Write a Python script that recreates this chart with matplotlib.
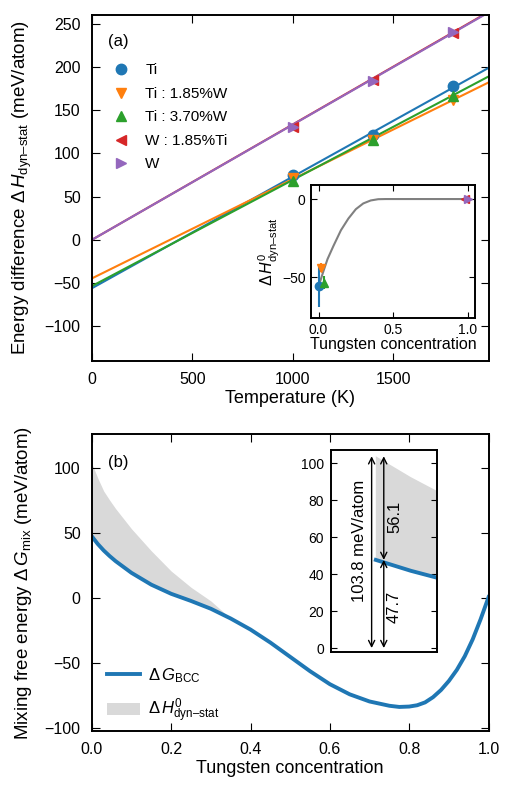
import matplotlib
matplotlib.use("Agg")
import matplotlib.pyplot as plt
import numpy as np

plt.rcParams['font.family'] = ['Liberation Sans', 'DejaVu Sans']
plt.rcParams['mathtext.fontset'] = 'custom'
plt.rcParams['mathtext.rm'] = 'Liberation Sans'
plt.rcParams['mathtext.it'] = 'Liberation Sans:italic'
plt.rcParams['mathtext.bf'] = 'Liberation Sans:bold'
plt.rcParams['mathtext.sf'] = 'Liberation Sans'
plt.rcParams['xtick.direction'] = 'in'
plt.rcParams['ytick.direction'] = 'in'
plt.rcParams['xtick.top'] = True
plt.rcParams['ytick.right'] = True
plt.rcParams['xtick.major.size'] = 5.5
plt.rcParams['ytick.major.size'] = 5.5
plt.rcParams['axes.linewidth'] = 1.4

#### data, panel (a) ####
temps = [1000, 1400, 1800]
names = ['Ti', 'Ti : 1.85%W', 'Ti : 3.70%W', 'W : 1.85%Ti', 'W']
markers = ['o', 'v', '^', '<', '>']
colors = ['C0', 'C1', 'C2', 'C3', 'C4']
dH_ti = [75, 121, 177.5]
dH_ti185w = [72, 116, 162]
dH_ti370w = [68, 115.5, 167]
dH_w185ti = [131, 185, 239.5]
dH_w = [130, 184, 240]
# linear fits: intercept (= dH0) and slope (meV/atom/K)
intercepts = [-56, -44.6, -53.5, 0, 0]
slopes = [0.1291, 0.1148, 0.1228, 0.1335, 0.1332]

# inset (a)
w_conc = [0.0, 0.0185, 0.037, 0.9815, 1.0]
dH0 = [-56, -44, -53.5, 0, 0]
dH0_err = [13, 3, 4, 0.5, 0.5]
model_x = [0, 0.03, 0.06, 0.1, 0.15, 0.2, 0.25, 0.3, 0.35, 0.4, 0.45, 1.0]
model_y = [-56, -47, -38.5, -30, -20, -12.5, -6.5, -2.8, -0.9, -0.1, 0, 0]

#### data, panel (b) ####
x_w = [0, 0.015, 0.03, 0.045, 0.06, 0.1, 0.15, 0.2, 0.25, 0.3, 0.35, 0.4, 0.45,
       0.5, 0.55, 0.6, 0.65, 0.7, 0.75, 0.775, 0.8, 0.82, 0.84, 0.86, 0.88,
       0.9, 0.92, 0.94, 0.96, 0.98, 1.0]
dG_bcc = [47.7, 41.8, 36.8, 32.5, 28.6, 19.6, 10.5, 3.5, -2, -8, -15.5, -24,
          -34, -45, -56, -66, -73.8, -79.3, -82.6, -83.5, -83.2, -82.2, -80,
          -76, -70.5, -63.5, -55, -44.5, -31.5, -16, 1]
dG_upper = [103.8, 92.5, 82.5, 75.5, 69, 53.5, 36.5, 21, 8.5, -2, -15.5]
dG0 = 47.7
dH0_ti = 56.1

fig = plt.figure(figsize=(5.1, 7.95), dpi=100)

#%% panel (a)
ax1 = fig.add_axes([0.180, 0.546, 0.778, 0.435])
xlim_a = (0, 1975)
t_line = np.array(xlim_a)
for b, m, c in zip(intercepts, slopes, colors):
    ax1.plot(t_line, b + m * t_line, color=c, lw=1.5)
for vals, mk, c, nm in zip([dH_ti, dH_ti185w, dH_ti370w, dH_w185ti, dH_w],
                           markers, colors, names):
    ax1.plot(temps, vals, mk, color=c, ms=7.5, ls='none', label=nm)
ax1.set_xlim(*xlim_a)
ax1.set_ylim(-140, 260)
ax1.set_xticks([0, 500, 1000, 1500])
ax1.set_yticks(np.arange(-100, 251, 50))
ax1.tick_params(labelsize=11.5, pad=8)
ax1.set_xlabel('Temperature (K)', fontsize=13, labelpad=2)
ax1.set_ylabel(r'Energy difference $\Delta\,H_{\mathrm{dyn–stat}}$ (meV/atom)',
               fontsize=13.5, labelpad=8)
ax1.text(0.04, 0.923, '(a)', transform=ax1.transAxes, fontsize=12, va='center')
ax1.legend(loc='upper left', bbox_to_anchor=(0.0, 0.90), frameon=False,
           fontsize=11, handletextpad=0.6, labelspacing=0.62, numpoints=1)

# inset (a)
ins1 = fig.add_axes([0.610, 0.6004, 0.3216, 0.1669])
ins1.plot(model_x, model_y, color='gray', lw=1.5)
for x, y, e, mk, c in zip(w_conc, dH0, dH0_err, markers, colors):
    ins1.errorbar(x, y, yerr=e, fmt=mk, color=c, ms=6, elinewidth=1.5, capsize=0)
ins1.set_xlim(-0.05, 1.05)
ins1.set_ylim(-76, 9)
ins1.set_xticks([0, 0.5, 1.0])
ins1.set_xticklabels(['0.0', '0.5', '1.0'])
ins1.set_yticks([0, -50])
ins1.tick_params(labelsize=10, length=4, pad=4)
ins1.set_xlabel('Tungsten concentration', fontsize=11.5, labelpad=0)
ins1.set_ylabel(r'$\Delta\,H^0_{\mathrm{dyn–stat}}$', fontsize=11.5, labelpad=0)

#%% panel (b)
ax2 = fig.add_axes([0.180, 0.0805, 0.778, 0.373])
n_up = len(dG_upper)
ax2.fill_between(x_w[:n_up], dG_bcc[:n_up], dG_upper, color='#d9d9d9', lw=0,
                 label=r'$\Delta\,H^0_{\mathrm{dyn–stat}}$')
ax2.plot(x_w, dG_bcc, color='#1f77b4', lw=2.8, label=r'$\Delta\,G_{\mathrm{BCC}}$')
ax2.set_xlim(0, 1)
ax2.set_ylim(-102, 126)
ax2.set_xticks(np.arange(0, 1.01, 0.2))
ax2.set_xticklabels(['0.0', '0.2', '0.4', '0.6', '0.8', '1.0'])
ax2.set_yticks(np.arange(-100, 101, 50))
ax2.tick_params(labelsize=11.5, pad=8)
ax2.set_xlabel('Tungsten concentration', fontsize=13, labelpad=2)
ax2.set_ylabel(r'Mixing free energy $\Delta\,G_{\mathrm{mix}}$ (meV/atom)',
               fontsize=13.5, labelpad=8)
ax2.text(0.04, 0.905, '(b)', transform=ax2.transAxes, fontsize=12, va='center')
h, l = ax2.get_legend_handles_labels()
ax2.legend(h[::-1], l[::-1], loc='lower left', bbox_to_anchor=(0.0, -0.03),
           frameon=False, fontsize=12, handlelength=2.0, handletextpad=0.5,
           labelspacing=0.7)

# inset (b)
ins2 = fig.add_axes([0.649, 0.1795, 0.207, 0.2545])
ins2.fill_between(x_w[:n_up], dG_bcc[:n_up], dG_upper, color='#d9d9d9', lw=0)
ins2.plot(x_w, dG_bcc, color='#1f77b4', lw=2.8)
ins2.set_xlim(-0.0192, 0.026)
ins2.set_ylim(-2.3, 107.2)
ins2.set_xticks([])
ins2.set_yticks(np.arange(0, 101, 20))
ins2.tick_params(labelsize=10, length=4, pad=5)
arrow = dict(arrowstyle='<->', lw=1, color='k', shrinkA=0, shrinkB=0,
             mutation_scale=11)
ins2.annotate('', xy=(-0.0018, 0), xytext=(-0.0018, dG0 + dH0_ti), arrowprops=arrow)
ins2.annotate('', xy=(0.0034, 0), xytext=(0.0034, dG0), arrowprops=arrow)
ins2.annotate('', xy=(0.0034, dG0), xytext=(0.0034, dG0 + dH0_ti), arrowprops=arrow)
ins2.text(-0.0068, 58, '%.1f meV/atom' % (dG0 + dH0_ti), rotation=90,
          ha='center', va='center', fontsize=12)
ins2.text(0.0080, dG0 + dH0_ti / 2 - 5, '%.1f' % dH0_ti, rotation=90,
          ha='center', va='center', fontsize=12)
ins2.text(0.0080, 22.5, '%.1f' % dG0, rotation=90, ha='center', va='center',
          fontsize=12)

fig.savefig('out.png', dpi=100)
